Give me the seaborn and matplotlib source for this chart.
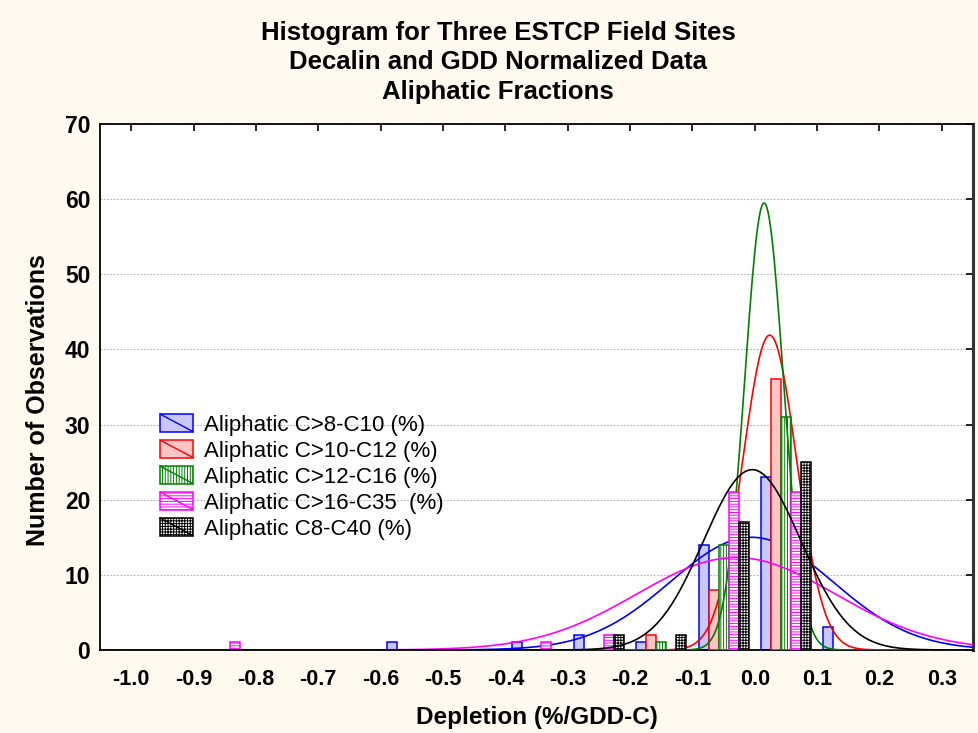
import numpy as np
import pandas as pd
import matplotlib
matplotlib.use("Agg")
import matplotlib.pyplot as plt
import seaborn as sns
from matplotlib.patches import Rectangle, Patch
from matplotlib.lines import Line2D
from matplotlib.legend_handler import HandlerPatch
from matplotlib.colors import to_rgb

# Series (legend order)
SERIES = [
    'Aliphatic C>8-C10 (%)',
    'Aliphatic C>10-C12 (%)',
    'Aliphatic C>12-C16 (%)',
    'Aliphatic C>16-C35  (%)',
    'Aliphatic C8-C40 (%)',
]

# Histogram bin centres (bin width 0.1)
BIN_CENTERS = [-0.95, -0.85, -0.75, -0.65, -0.55, -0.45, -0.35, -0.25, -0.15, -0.05, 0.05, 0.15]

# Counts per bin
COUNTS_C8_C10 = [0, 0, 0, 0, 1, 0, 1, 2, 1, 14, 23, 3]
COUNTS_C10_C12 = [0, 0, 0, 0, 0, 0, 0, 0, 2, 8, 36, 0]
COUNTS_C12_C16 = [0, 0, 0, 0, 0, 0, 0, 0, 1, 14, 31, 0]
COUNTS_C16_C35 = [0, 1, 0, 0, 0, 0, 1, 2, 0, 21, 21, 0]
COUNTS_C8_C40 = [0, 0, 0, 0, 0, 0, 0, 2, 2, 17, 25, 0]

# Fitted normal curves: mean, sd, peak height (estimated from the chart)
CURVE_MEAN = [-0.005, 0.024, 0.015, -0.03, -0.004]
CURVE_SD = [0.13, 0.043, 0.031, 0.159, 0.078]
CURVE_PEAK = [15.0, 41.9, 59.5, 12.3, 24.0]

XTICK_LABELS = ['-1.0', '-0.9', '-0.8', '-0.7', '-0.6', '-0.5', '-0.4',
                '-0.3', '-0.2', '-0.1', '0.0', '0.1', '0.2', '0.3']
YTICKS = [0, 10, 20, 30, 40, 50, 60, 70]

TITLE_LINES = ['Histogram for Three ESTCP Field Sites',
               'Decalin and GDD Normalized Data',
               'Aliphatic Fractions']

# Styles
EDGE_COLORS = ['#0000ff', '#ff0000', '#008000', '#ff00ff', '#000000']
FACE_COLORS = ['#c8c8ff', '#ffc4c4', '#ffffff', '#ffffff', '#ffffff']
HATCHES = ['', '', '||||||', '------', '++++++']


class SwatchHandler(HandlerPatch):
    """Legend box with a diagonal line through it"""
    def create_artists(self, legend, orig_handle, xdescent, ydescent,
                       width, height, fontsize, trans):
        x0, y0 = -xdescent, -ydescent
        ec = orig_handle.get_edgecolor()
        box = Rectangle((x0, y0), width, height,
                        facecolor=orig_handle.get_facecolor(), edgecolor=ec,
                        hatch=orig_handle.get_hatch(), linewidth=1.1,
                        transform=trans)
        diag = Line2D([x0, x0 + width], [y0 + height, y0], color=ec,
                      linewidth=1.0, transform=trans)
        return [box, diag]


sns.set_style('white')
plt.rcParams['font.family'] = ['Liberation Sans', 'DejaVu Sans']
plt.rcParams['text.color'] = 'black'
plt.rcParams['axes.labelcolor'] = 'black'
plt.rcParams['xtick.color'] = 'black'
plt.rcParams['ytick.color'] = 'black'
plt.rcParams['hatch.linewidth'] = 0.7

df = pd.DataFrame({
    'series': np.repeat(SERIES, len(BIN_CENTERS)),
    'depletion': np.tile(BIN_CENTERS, len(SERIES)),
    'count': np.concatenate([COUNTS_C8_C10, COUNTS_C10_C12, COUNTS_C12_C16,
                             COUNTS_C16_C35, COUNTS_C8_C40]),
})

bw = round(BIN_CENTERS[1] - BIN_CENTERS[0], 6)
lo = round(BIN_CENTERS[0] - bw / 2, 6)
hi = round(BIN_CENTERS[-1] + bw / 2, 6)

fig = plt.figure(figsize=(9.79, 7.33), dpi=100)
fig.patch.set_facecolor('#fffaf0')
ax = fig.add_axes([100 / 979, 1 - 650 / 733, 873 / 979, 526 / 733])
ax.set_facecolor('white')

sns.histplot(data=df, x='depletion', weights='count', hue='series',
             hue_order=SERIES, palette=dict(zip(SERIES, EDGE_COLORS)),
             multiple='dodge', binwidth=bw, binrange=(lo, hi), shrink=0.8,
             alpha=1, legend=False, ax=ax)

# restyle the bars per series
edge_rgb = [np.array(to_rgb(c)) for c in EDGE_COLORS]
for cont in ax.containers:
    fc = np.array(cont.patches[0].get_facecolor()[:3])
    idx = int(np.argmin([np.sum((fc - c) ** 2) for c in edge_rgb]))
    for bar in cont.patches:
        if bar.get_height() <= 0:
            bar.set_visible(False)
            continue
        bar.set_facecolor(FACE_COLORS[idx])
        bar.set_edgecolor(EDGE_COLORS[idx])
        bar.set_hatch(HATCHES[idx])
        bar.set_linewidth(1.1)
        bar.set_zorder(2 + 2 * idx)

# normal fit curves
xs = np.linspace(-1.05, 0.35, 700)
for i in range(len(SERIES)):
    ys = CURVE_PEAK[i] * np.exp(-0.5 * ((xs - CURVE_MEAN[i]) / CURVE_SD[i]) ** 2)
    ax.plot(xs, ys, color=EDGE_COLORS[i], linewidth=1.2, zorder=3 + 2 * i)

ax.set_xlim(-1.05, 0.35)
ax.set_ylim(0, 70)
ax.set_xticks([float(s) for s in XTICK_LABELS])
ax.set_xticklabels(XTICK_LABELS, fontweight='bold', fontsize=15.5)
ax.set_yticks(YTICKS)
ax.set_yticklabels([str(v) for v in YTICKS], fontweight='bold', fontsize=16.5)
ax.tick_params(axis='both', direction='in', length=5, width=1.2,
               top=True, right=True)
ax.tick_params(axis='x', pad=14)
ax.tick_params(axis='y', pad=7)

ax.yaxis.grid(True, linestyle=(0, (1.5, 1.5)), color='#b4b4b4', linewidth=0.8)
ax.set_axisbelow(True)
for sp in ax.spines.values():
    sp.set_color('black')
    sp.set_linewidth(1.3)
ax.spines['right'].set_color('#333333')
ax.spines['right'].set_linewidth(2.2)

ax.set_xlabel('Depletion (%/GDD-C)', fontweight='bold', fontsize=17.5, labelpad=11)
ax.set_ylabel('Number of Observations', fontweight='bold', fontsize=18)
ax.yaxis.set_label_coords(-0.057, 0.475)

for line, ypx in zip(TITLE_LINES, [33, 62, 92]):
    fig.text(498 / 979, 1 - ypx / 733, line, ha='center', va='center',
             fontweight='bold', fontsize=18.5)

handles = [Patch(facecolor=FACE_COLORS[i], edgecolor=EDGE_COLORS[i],
                 hatch=HATCHES[i], label=SERIES[i]) for i in range(len(SERIES))]
ax.legend(handles=handles, handler_map={Patch: SwatchHandler()},
          loc='upper left', bbox_to_anchor=(0.0686, 0.4487), frameon=False,
          borderpad=0, borderaxespad=0, handlelength=1.5, handleheight=0.85,
          handletextpad=0.5, labelspacing=0.2,
          prop={'family': 'Liberation Sans', 'size': 16})

fig.savefig('out.png', dpi=100, facecolor=fig.get_facecolor())
